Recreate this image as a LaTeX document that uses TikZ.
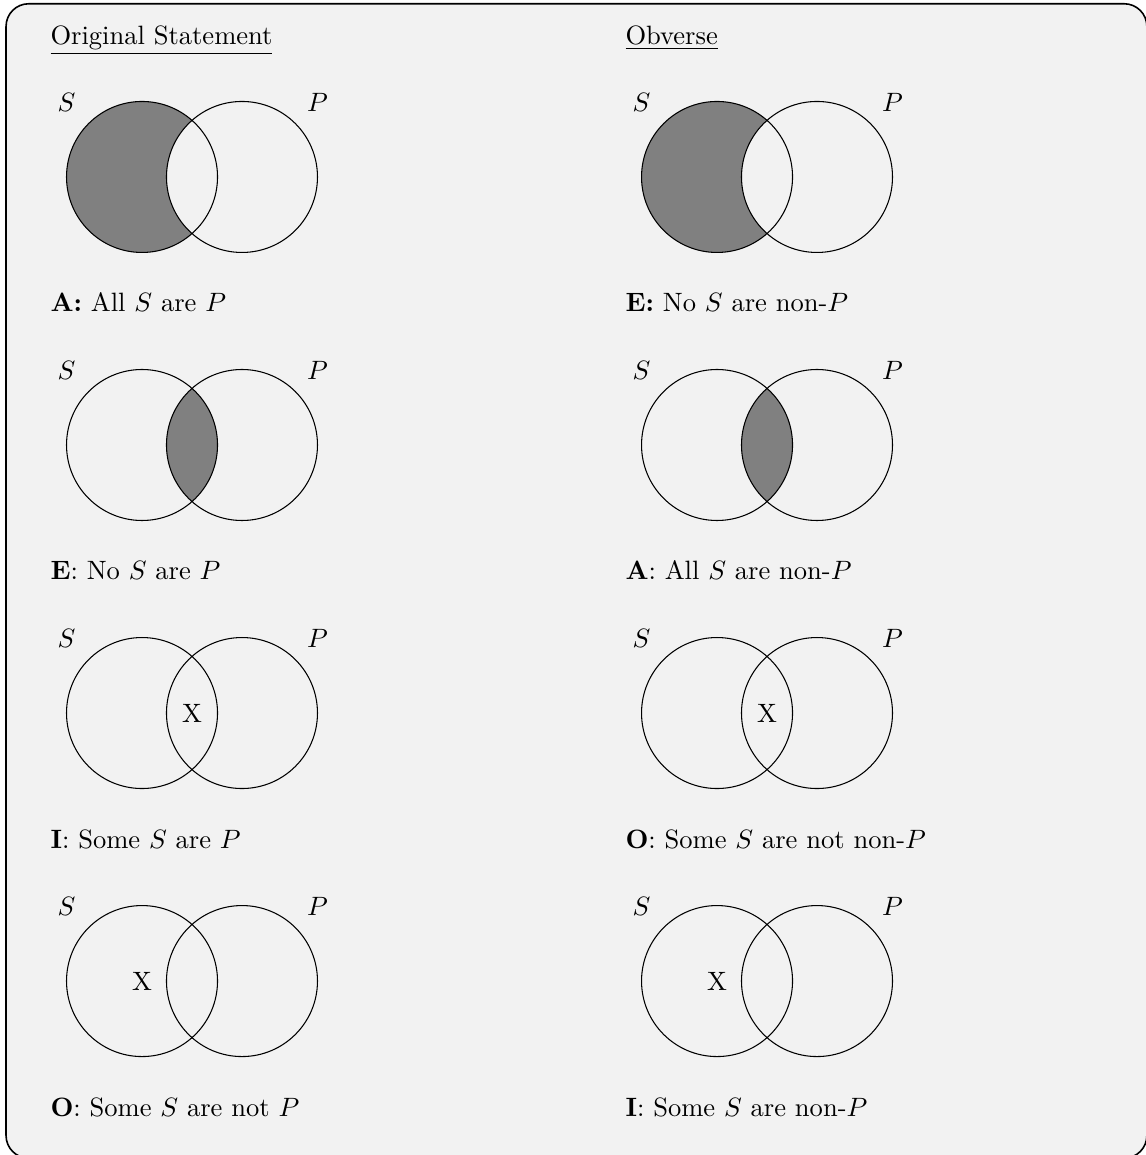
\documentclass[tikz,border=0pt]{standalone}
\usepackage{amsmath,amssymb}
\usepackage{tikz}
\usetikzlibrary{calc}

\begin{document}
\begin{tikzpicture}[
    lbl/.style={inner sep=0pt},
    caption/.style={anchor=base west, inner sep=0pt},
    region/.style={fill=gray}]
  \useasboundingbox (0,0) rectangle (15.166,-15.298);
  \draw[line width=0.6pt, fill=black!5, rounded corners=0.3cm] (0.08,-0.05) rectangle (15.19,-15.34);

  % headings
  \node[caption] (headOrig) at (0.662,-0.583) {\underline{Original Statement}};
  \node[caption] (headObv) at (8.278,-0.583) {\underline{Obverse}};

  % circle centres: L = original, R = obverse
  \foreach \r/\y in {1/-2.344,2/-5.894,3/-9.444,4/-12.994} {
    \coordinate (sL\r) at (1.881,\y);
    \coordinate (pL\r) at (3.205,\y);
    \coordinate (sR\r) at (9.497,\y);
    \coordinate (pR\r) at (10.821,\y);
  }

  % shaded regions
  \foreach \c in {L,R} {
    \begin{scope}
      \clip (s\c1) circle (1);
      \fill[region, even odd rule] (s\c1) circle (1) (p\c1) circle (1);
    \end{scope}
    \begin{scope}
      \clip (s\c2) circle (1);
      \fill[region] (p\c2) circle (1);
    \end{scope}
  }

  % circles and S, P labels
  \foreach \c in {L,R} {
    \foreach \r in {1,2,3,4} {
      \draw (s\c\r) circle (1) (p\c\r) circle (1);
      \node[lbl] (sLab\c\r) at ($(s\c\r)+(-1,0.99)$) {$S$};
      \node[lbl] (pLab\c\r) at ($(p\c\r)+(1,0.99)$) {$P$};
    }
  }

  % the X marks
  \foreach \c in {L,R} {
    \node[lbl] (xI\c) at ($(s\c3)!0.5!(p\c3)$) {X};
    \node[lbl] (xO\c) at (s\c4) {X};
  }

  % captions
  \node[caption] (capA) at (0.662,-4.132) {\textbf{A:} All $S$ are $P$};
  \node[caption] (capE) at (0.662,-7.682) {\textbf{E}: No $S$ are $P$};
  \node[caption] (capI) at (0.662,-11.232) {\textbf{I}: Some $S$ are $P$};
  \node[caption] (capO) at (0.662,-14.782) {\textbf{O}: Some $S$ are not $P$};
  \node[caption] (obvE) at (8.278,-4.132) {\textbf{E:} No $S$ are non-$P$};
  \node[caption] (obvA) at (8.278,-7.682) {\textbf{A}: All $S$ are non-$P$};
  \node[caption] (obvO) at (8.278,-11.232) {\textbf{O}: Some $S$ are not non-$P$};
  \node[caption] (obvI) at (8.278,-14.782) {\textbf{I}: Some $S$ are non-$P$};
\end{tikzpicture}
\end{document}
